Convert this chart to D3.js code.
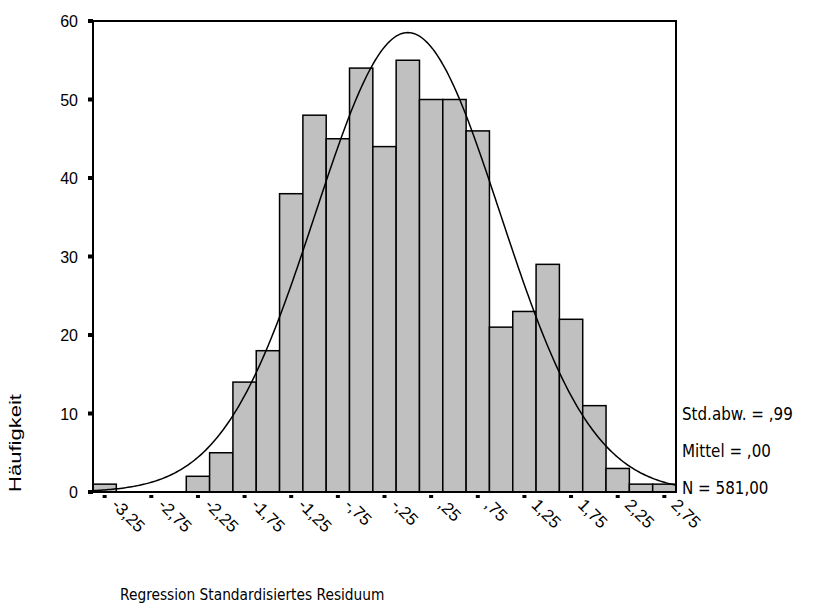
<!DOCTYPE html>
<html>
<head>
<meta charset="utf-8">
<script src="https://cdn.jsdelivr.net/npm/d3@7"></script>
<style>
  body { margin: 0; background: #fff; }
  svg { display: block; }
</style>
</head>
<body>
<script>
// bin centers (width ,25) and counts
const binCenters = [-3.25, -3.0, -2.75, -2.5, -2.25, -2.0, -1.75, -1.5, -1.25, -1.0, -0.75, -0.5, -0.25,
    0, 0.25, 0.5, 0.75, 1.0, 1.25, 1.5, 1.75, 2.0, 2.25, 2.5, 2.75];
const counts = [1, 0, 0, 0, 2, 5, 14, 18, 38, 48, 45, 54, 44, 55, 50, 50, 46, 21, 23, 29, 22, 11, 3, 1, 1];
const xTickValues = [-3.25, -2.75, -2.25, -1.75, -1.25, -0.75, -0.25, 0.25, 0.75, 1.25, 1.75, 2.25, 2.75];
const xTickLabels = ["-3,25", "-2,75", "-2,25", "-1,75", "-1,25", "-,75", "-,25", ",25", ",75", "1,25", "1,75", "2,25", "2,75"];
const yTickValues = [0, 10, 20, 30, 40, 50, 60];
const statLabels = ["Std.abw. = ,99", "Mittel = ,00", "N = 581,00"];
const stdDev = 0.99, mean = 0, n = 581;
const binWidth = 0.25;

const width = 827, height = 612;
let margin = { top: 21, left: 93, right: 151, bottom: 120 };

let svg = d3.select("body").append("svg")
    .attr("width", width)
    .attr("height", height);

let xScale = d3.scaleLinear()
    .domain([binCenters[0] - binWidth / 2, binCenters[binCenters.length - 1] + binWidth / 2])
    .range([margin.left, width - margin.right]);

let yScale = d3.scaleLinear()
    .domain([0, 60])
    .range([height - margin.bottom, margin.top]);

// bars (empty bins are skipped)
let bins = binCenters.map((c, i) => ({ center: c, count: counts[i] })).filter(b => b.count > 0);
svg.append("g")
    .selectAll("rect")
    .data(bins)
    .join("rect")
    .attr("x", d => xScale(d.center - binWidth / 2))
    .attr("y", d => yScale(d.count))
    .attr("width", d => xScale(d.center + binWidth / 2) - xScale(d.center - binWidth / 2))
    .attr("height", d => yScale(0) - yScale(d.count))
    .attr("fill", "#c0c0c0")
    .attr("stroke", "#000")
    .attr("stroke-width", 1.5);

// fitted normal curve from the shown stats
let curvePts = d3.range(0, 301).map(i => {
    const xv = xScale.domain()[0] + (xScale.domain()[1] - xScale.domain()[0]) * i / 300;
    const z = (xv - mean) / stdDev;
    return [xv, n * binWidth * Math.exp(-0.5 * z * z) / (stdDev * Math.sqrt(2 * Math.PI))];
});
let line = d3.line()
    .x(d => xScale(d[0]))
    .y(d => yScale(d[1]));
svg.append("path")
    .datum(curvePts)
    .attr("d", line)
    .attr("fill", "none")
    .attr("stroke", "#000")
    .attr("stroke-width", 1.5);

// frame
svg.append("rect")
    .attr("x", xScale.range()[0])
    .attr("y", yScale.range()[1])
    .attr("width", xScale.range()[1] - xScale.range()[0])
    .attr("height", yScale.range()[0] - yScale.range()[1])
    .attr("fill", "none")
    .attr("stroke", "#000")
    .attr("stroke-width", 2);

// y axis: square tick marks + labels
let yAxis = svg.append("g");
yAxis.selectAll("rect")
    .data(yTickValues)
    .join("rect")
    .attr("x", margin.left - 5)
    .attr("y", d => yScale(d) - 2)
    .attr("width", 5)
    .attr("height", 4)
    .attr("fill", "#000");
yAxis.selectAll("text")
    .data(yTickValues)
    .join("text")
    .attr("x", 78)
    .attr("y", d => yScale(d) + 6)
    .attr("text-anchor", "end")
    .attr("font-family", "Liberation Sans, Arial, sans-serif")
    .attr("font-size", 16)
    .text(d => d);

svg.append("text")
    .attr("transform", "translate(21," + 443 + ") rotate(-90)")
    .attr("text-anchor", "middle")
    .attr("font-family", "Liberation Sans, Arial, sans-serif")
    .attr("font-size", 17)
    .attr("textLength", 98)
    .attr("lengthAdjust", "spacingAndGlyphs")
    .text("Häufigkeit");

// x axis: square tick marks + rotated labels
let xAxis = svg.append("g");
xAxis.selectAll("rect")
    .data(xTickValues)
    .join("rect")
    .attr("x", d => xScale(d) - 2)
    .attr("y", yScale(0) + 3)
    .attr("width", 4)
    .attr("height", 3)
    .attr("fill", "#000");
xAxis.selectAll("text")
    .data(xTickValues)
    .join("text")
    .attr("transform", d => "translate(" + (xScale(d) + 6) + "," + (yScale(0) + 14) + ") rotate(45)")
    .attr("font-family", "Liberation Sans, Arial, sans-serif")
    .attr("font-size", 17)
    .text((d, i) => xTickLabels[i]);

svg.append("text")
    .attr("transform", "translate(120,600) scale(0.85,1)")
    .attr("font-family", "DejaVu Sans, sans-serif")
    .attr("font-size", 16.2)
    .text("Regression Standardisiertes Residuum");

// stats block
svg.append("g")
    .selectAll("text")
    .data(statLabels)
    .join("text")
    .attr("transform", (d, i) => "translate(682," + (420 + i * 37) + ") scale(0.85,1)")
    .attr("font-family", "DejaVu Sans, sans-serif")
    .attr("font-size", 17.8)
    .text(d => d);
</script>
</body>
</html>
